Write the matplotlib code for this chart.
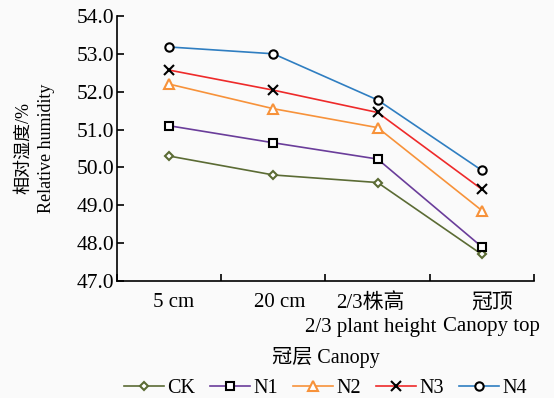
import numpy as np
import matplotlib.pyplot as plt
from matplotlib.transforms import ScaledTranslation

plt.rcParams['font.family'] = ['Liberation Serif', 'Noto Sans CJK SC']

# categories along the canopy
positions = ['5 cm', '20 cm', '2/3株高\n2/3 plant height', '冠顶\nCanopy top']

# relative humidity (%)
ck = [50.3, 49.8, 49.6, 47.7]
n1 = [51.1, 50.65, 50.22, 47.9]
n2 = [52.2, 51.55, 51.05, 48.86]
n3 = [52.57, 52.04, 51.45, 49.42]
n4 = [53.18, 53.0, 51.78, 49.92]

names = ['CK', 'N1', 'N2', 'N3', 'N4']
series = [ck, n1, n2, n3, n4]
colors = ['#5b6b34', '#6a3d9a', '#f7923a', '#ee2a2a', '#2f7ec1']
markers = ['D', 's', '^', 'x', 'o']
mec = ['#5b6b34', 'black', '#f7923a', 'black', 'black']
msizes = [4.5, 5.5, 6.5, 6.5, 6]

bg = '#fafafa'
fig = plt.figure(figsize=(5.54, 3.98), dpi=100, facecolor=bg)
ax = fig.add_axes([0.211, 0.294, 0.753, 0.666], facecolor=bg)

x = np.arange(len(positions))
for vals, name, c, m, ec, ms in zip(series, names, colors, markers, mec, msizes):
    ax.plot(x, vals, color=c, lw=1.2, marker=m, markersize=ms,
            markerfacecolor='white' if m != 'x' else ec, markeredgecolor=ec,
            markeredgewidth=1.5, label=name)

ax.set_ylim(47, 54)
ax.set_yticks(np.arange(47, 54.01, 1.0))
ax.set_yticklabels(['%.1f' % v for v in np.arange(47, 54.01, 1.0)])
ax.set_xlim(-0.5, 3.5)
ax.set_xticks(x)
ax.set_xticklabels(positions, fontsize=15, linespacing=1.35)
ax.set_xticks(np.arange(-0.5, 3.6, 1.0), minor=True)
ax.tick_params(axis='x', which='major', length=0, pad=9)
ax.tick_params(axis='x', which='minor', direction='in', length=5, width=1.2)
ax.tick_params(axis='y', direction='in', length=5, width=1.2, labelsize=15.5, pad=2)

# nudge the category labels sideways so the two long ones do not touch
for lab, dx in zip(ax.get_xticklabels(), [5, 6, -7, 10]):
    lab.set_transform(lab.get_transform() + ScaledTranslation(dx / 100, 0, fig.dpi_scale_trans))

for s in ['top', 'right']:
    ax.spines[s].set_visible(False)
for s in ['left', 'bottom']:
    ax.spines[s].set_linewidth(1.2)

ax.set_ylabel('相对湿度/%\nRelative humidity', fontsize=13, linespacing=1.45)
ax.yaxis.set_label_coords(-0.148, 0.5)
ax.set_xlabel('冠层 Canopy', fontsize=14.5, labelpad=7)

fig.legend(loc='lower center', bbox_to_anchor=(0.587, -0.045), ncol=5, frameon=False,
           fontsize=14.5, handlelength=2.0, handletextpad=0.15, columnspacing=0.75)

fig.savefig('out.png', dpi=100, facecolor=bg)
